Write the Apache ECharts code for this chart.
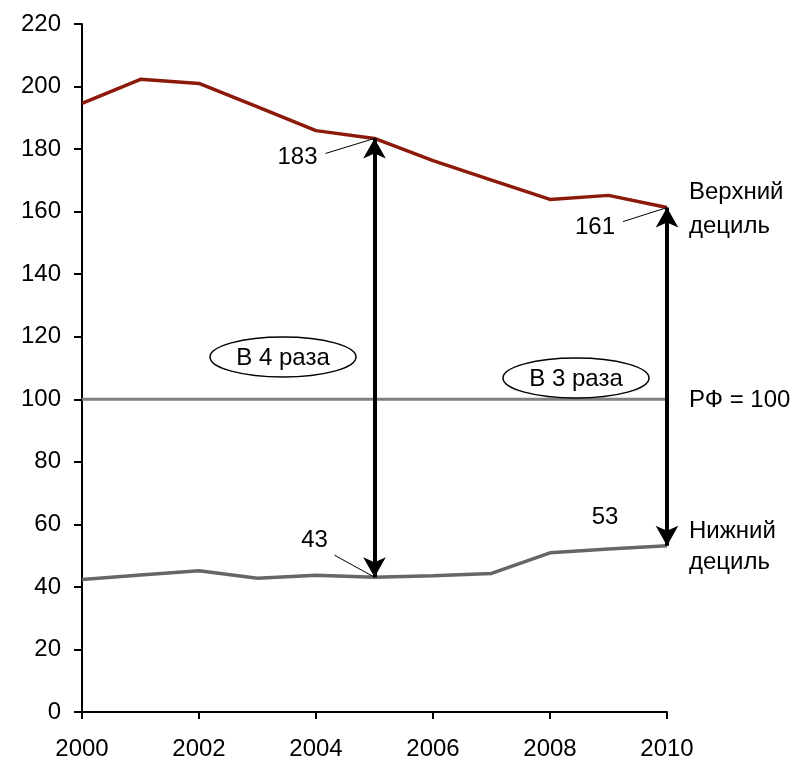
<!DOCTYPE html>
<html>
<head>
<meta charset="utf-8">
<style>
  html, body { margin: 0; padding: 0; background: #fff; }
  #chart { width: 803px; height: 766px; }
</style>
<script src="https://cdn.jsdelivr.net/npm/echarts@6/dist/echarts.min.js"></script>
</head>
<body>
<div id="chart"></div>
<script>
// годы
const years = ['2000', '2001', '2002', '2003', '2004', '2005', '2006', '2007', '2008', '2009', '2010']
// верхний дециль (РФ = 100)
const upperDecile = [194.6, 202.3, 201.0, 193.5, 185.9, 183.4, 176.3, 170.1, 163.9, 165.2, 161.3]
// нижний дециль
const lowerDecile = [42.4, 43.8, 45.2, 42.8, 43.7, 43.1, 43.6, 44.3, 50.9, 52.1, 53.2]
// уровень РФ
const rfLevel = years.map(() => 100)

const FONT = 'Liberation Sans, Arial, sans-serif'
const FS = 24
const chart = echarts.init(document.getElementById('chart'))

const option = {
  animation: false,
  backgroundColor: '#fff',
  grid: { left: 82, right: 136, top: 24, bottom: 54 },
  xAxis: {
    type: 'category',
    data: years,
    boundaryGap: false,
    axisLine: { lineStyle: { color: '#000', width: 2 } },
    axisTick: { show: true, interval: 1, length: 7, lineStyle: { color: '#000', width: 2 } },
    axisLabel: { interval: 1, margin: 25, color: '#000', fontSize: FS, fontFamily: FONT },
    splitLine: { show: false }
  },
  yAxis: {
    type: 'value',
    min: 0,
    max: 220,
    interval: 20,
    axisLine: { show: true, lineStyle: { color: '#000', width: 2 } },
    axisTick: { show: true, length: 8, lineStyle: { color: '#000', width: 2 } },
    axisLabel: { margin: 21, color: '#000', fontSize: FS, fontFamily: FONT },
    splitLine: { show: false }
  },
  series: [
    {
      name: 'РФ',
      type: 'line',
      data: rfLevel,
      symbol: 'none',
      lineStyle: { color: '#808080', width: 3 },
      z: 1
    },
    {
      name: 'Нижний дециль',
      type: 'line',
      data: lowerDecile,
      symbol: 'none',
      lineStyle: { color: '#666666', width: 3.5 },
      z: 2
    },
    {
      name: 'Верхний дециль',
      type: 'line',
      data: upperDecile,
      symbol: 'none',
      lineStyle: { color: '#8b1a0a', width: 3.5 },
      z: 3,
      // двойные стрелки между децилями
      markLine: {
        silent: true,
        symbol: ['arrow', 'arrow'],
        symbolSize: [17, 20],
        label: { show: false },
        lineStyle: { color: '#000', width: 4, type: 'solid' },
        data: [
          [{ coord: ['2005', upperDecile[5]] }, { coord: ['2005', lowerDecile[5]] }],
          [{ coord: ['2010', upperDecile[10]] }, { coord: ['2010', lowerDecile[10]] }]
        ]
      }
    }
  ]
}
chart.setOption(option)

// подписи и выноски
const p05u = chart.convertToPixel({ gridIndex: 0 }, ['2005', upperDecile[5]])
const p10u = chart.convertToPixel({ gridIndex: 0 }, ['2010', upperDecile[10]])
const p05l = chart.convertToPixel({ gridIndex: 0 }, ['2005', lowerDecile[5]])
const p10l = chart.convertToPixel({ gridIndex: 0 }, ['2010', lowerDecile[10]])
const p100 = chart.convertToPixel({ gridIndex: 0 }, ['2010', 100])

function txt(x, y, text, align) {
  return {
    type: 'text', x: x, y: y, z: 10,
    style: { text: text, fill: '#000', font: FS + 'px ' + FONT, align: align || 'center', verticalAlign: 'middle' }
  }
}
function thin(x1, y1, x2, y2) {
  return { type: 'line', z: 10, shape: { x1: x1, y1: y1, x2: x2, y2: y2 }, style: { stroke: '#000', lineWidth: 1 } }
}
function oval(cx, cy, text) {
  return [
    { type: 'ellipse', z: 10, shape: { cx: cx, cy: cy, rx: 73, ry: 20 }, style: { fill: '#fff', stroke: '#000', lineWidth: 1.5 } },
    txt(cx, cy + 1, text)
  ]
}

chart.setOption({
  graphic: [
    txt(p05u[0] - 77, p05u[1] + 19, '183'),
    thin(p05u[0] - 49, p05u[1] + 15, p05u[0], p05u[1]),
    txt(p10u[0] - 72, p10u[1] + 20, '161'),
    thin(p10u[0] - 44, p10u[1] + 14, p10u[0], p10u[1]),
    txt(p05l[0] - 60, p05l[1] - 37, '43'),
    thin(p05l[0] - 40, p05l[1] - 22, p05l[0], p05l[1]),
    txt(p10l[0] - 62, p10l[1] - 28, '53'),
    ...oval(283, 357, 'В 4 раза'),
    ...oval(576, 378, 'В 3 раза'),
    txt(p10u[0] + 22, p10u[1] - 15, 'Верхний', 'left'),
    txt(p10u[0] + 22, p10u[1] + 19, 'дециль', 'left'),
    txt(p100[0] + 22, p100[1] + 1, 'РФ = 100', 'left'),
    txt(p10l[0] + 22, p10l[1] - 14, 'Нижний', 'left'),
    txt(p10l[0] + 22, p10l[1] + 17, 'дециль', 'left')
  ]
})
</script>
</body>
</html>
